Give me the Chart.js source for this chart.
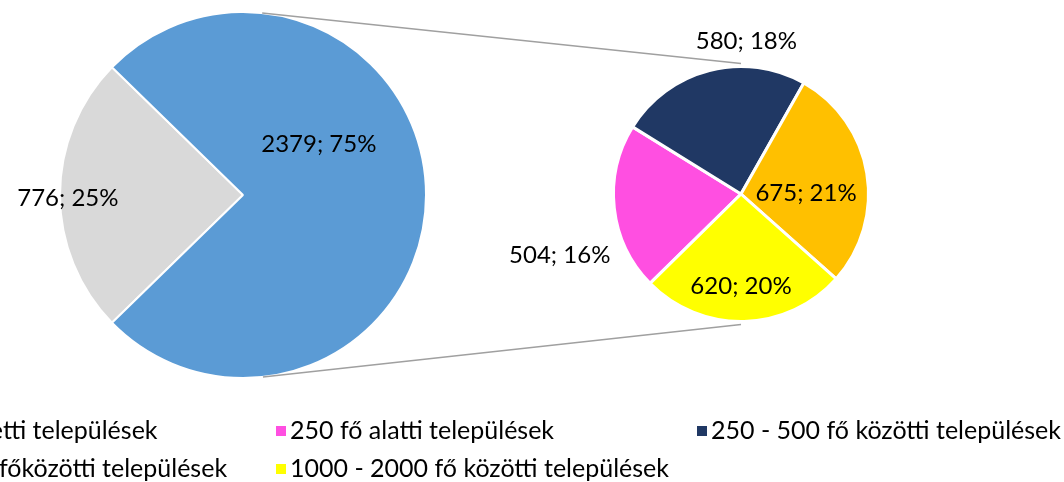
<!DOCTYPE html>
<html>
<head>
<meta charset="utf-8">
<script src="https://cdn.jsdelivr.net/npm/chart.js@4.4.1/dist/chart.umd.min.js"></script>
<style>
  html, body { margin: 0; padding: 0; background: #fff; overflow: hidden; }
  #wrap { position: relative; width: 1064px; height: 482px; }
  #wrap canvas { position: absolute; left: 0; top: 0; }
</style>
</head>
<body>
<div id="wrap">
  <canvas id="mainPie" width="1064" height="482"></canvas>
  <canvas id="detailPie" width="1064" height="482"></canvas>
</div>
<script>
// data
const mainLabels = ['2000 fő feletti települések', 'Egyéb'];
const detailLabels = ['250 fő alatti települések', '250 - 500 fő közötti települések', '500 - 1000 főközötti települések', '1000 - 2000 fő közötti települések'];
const detailValues = [504, 580, 675, 620];
// the "other" slice of the big pie is the sum of the small pie
const mainValues = [776, detailValues.reduce((a, b) => a + b, 0)];

const mainColors = ['#D9D9D9', '#5B9BD5'];
const detailColors = ['#FF4FE1', '#203864', '#FFC000', '#FFFF00'];

const total = mainValues[0] + mainValues[1];
const FONT = '24px Lato, "Open Sans", sans-serif';
const LEGEND_FONT = '25px Lato, "Open Sans", sans-serif';

// value; percent labels, placed by angle (deg from top, clockwise) and radius factor
const sliceLabels = {
    id: 'sliceLabels',
    afterDatasetsDraw(chart, args, opts) {
        const ctx = chart.ctx;
        const values = chart.data.datasets[0].data;
        chart.getDatasetMeta(0).data.forEach((arc, i) => {
            const p = opts.placement[i];
            const a = p.angle * Math.PI / 180;
            const x = arc.x + Math.sin(a) * arc.outerRadius * p.r;
            const y = arc.y - Math.cos(a) * arc.outerRadius * p.r;
            const pct = Math.round(values[i] / total * 100);
            ctx.save();
            ctx.font = FONT;
            ctx.fillStyle = '#000';
            ctx.textAlign = 'center';
            ctx.textBaseline = 'middle';
            ctx.fillText(values[i] + '; ' + pct + '%', x, y);
            ctx.restore();
        });
    }
};

// legend in a 3 column grid, first column runs off the left edge like the original
const legendItems = [{ text: mainLabels[0], color: mainColors[0] }]
    .concat(detailLabels.map((t, i) => ({ text: t, color: detailColors[i] })));

const gridLegend = {
    id: 'gridLegend',
    afterDraw(chart) {
        const ctx = chart.ctx;
        const colX = [-145, 276, 697];
        const rowY = [431, 469];
        ctx.save();
        ctx.font = LEGEND_FONT;
        ctx.textBaseline = 'middle';
        legendItems.forEach((item, i) => {
            const x = colX[i % 3];
            const y = rowY[Math.floor(i / 3)];
            ctx.fillStyle = item.color;
            ctx.fillRect(x, y - 5, 10, 10);
            ctx.fillStyle = '#000';
            ctx.fillText(item.text, x + 14, y);
        });
        ctx.restore();
    }
};

const mainChart = new Chart(document.getElementById('mainPie'), {
    type: 'pie',
    data: {
        labels: mainLabels,
        datasets: [{
            data: mainValues,
            backgroundColor: mainColors,
            borderColor: '#fff',
            borderWidth: 2,
            hoverOffset: 0
        }]
    },
    options: {
        responsive: false,
        animation: false,
        events: [],
        devicePixelRatio: 1,
        rotation: 270 - mainValues[0] / total * 180,
        layout: { padding: { left: 59, right: 637, top: 11, bottom: 103 } },
        plugins: {
            legend: { display: false },
            tooltip: { enabled: false },
            sliceLabels: {
                placement: [
                    { angle: 269, r: 0.957 },
                    { angle: 56, r: 0.5 }
                ]
            }
        }
    },
    plugins: [sliceLabels, gridLegend]
});

// grey lines from the big pie to the top and bottom of the small pie
const connectors = {
    id: 'connectors',
    beforeDatasetsDraw(chart) {
        const big = mainChart.getDatasetMeta(0).data[0];
        const small = chart.getDatasetMeta(0).data[0];
        const ctx = chart.ctx;
        ctx.save();
        ctx.strokeStyle = '#A0A0A0';
        ctx.lineWidth = 1.5;
        [-1, 1].forEach(s => {
            const px = small.x;
            const py = small.y + s * (small.outerRadius + 3);
            const dx = px - big.x, dy = py - big.y;
            const d = Math.hypot(dx, dy);
            const t = Math.atan2(dy, dx) + s * Math.acos(big.outerRadius / d);
            ctx.beginPath();
            ctx.moveTo(big.x + big.outerRadius * Math.cos(t), big.y + big.outerRadius * Math.sin(t));
            ctx.lineTo(px, py);
            ctx.stroke();
        });
        ctx.restore();
    }
};

const detailChart = new Chart(document.getElementById('detailPie'), {
    type: 'pie',
    data: {
        labels: detailLabels,
        datasets: [{
            data: detailValues,
            backgroundColor: detailColors,
            borderColor: '#fff',
            borderWidth: 3,
            hoverOffset: 0
        }]
    },
    options: {
        responsive: false,
        animation: false,
        events: [],
        devicePixelRatio: 1,
        rotation: 225.5,
        layout: { padding: { left: 612, right: 194, top: 65, bottom: 159 } },
        plugins: {
            legend: { display: false },
            tooltip: { enabled: false },
            sliceLabels: {
                placement: [
                    { angle: 251.4, r: 1.5 },
                    { angle: 2, r: 1.2 },
                    { angle: 89, r: 0.51 },
                    { angle: 180, r: 0.72 }
                ]
            }
        }
    },
    plugins: [connectors, sliceLabels]
});
</script>
</body>
</html>
